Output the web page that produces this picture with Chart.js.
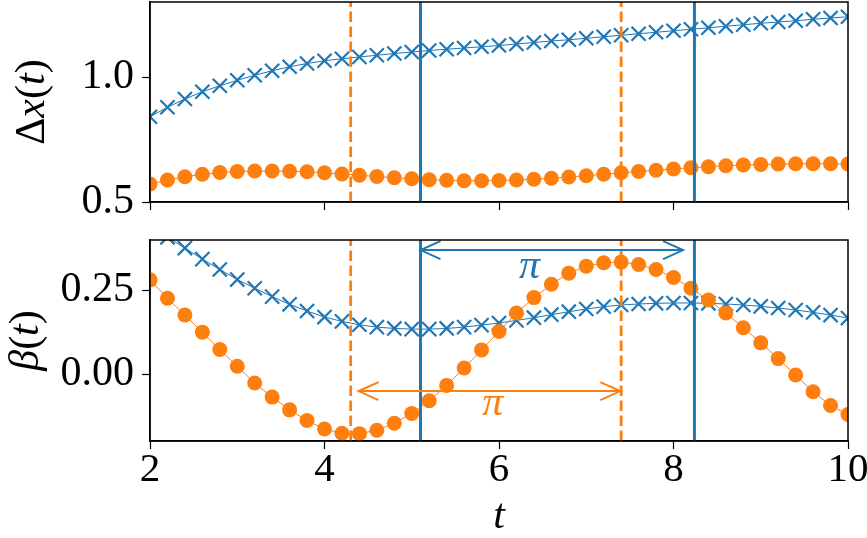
<!DOCTYPE html>
<html>
<head>
<meta charset="utf-8">
<script src="https://cdn.jsdelivr.net/npm/chart.js@4/dist/chart.umd.min.js"></script>
<style>
  body { margin: 0; background: #fff; }
  #wrap { position: relative; width: 867px; height: 538px; }
  canvas { position: absolute; left: 0; }
  #top { top: 0; }
  #bottom { top: 225px; }
</style>
</head>
<body>
<div id="wrap">
  <canvas id="top" width="867" height="215"></canvas>
  <canvas id="bottom" width="867" height="313"></canvas>
</div>
<script>
// sample times
const tValues = [2.0, 2.2, 2.4, 2.6, 2.8, 3.0, 3.2, 3.4, 3.6, 3.8,
                 4.0, 4.2, 4.4, 4.6, 4.8, 5.0, 5.2, 5.4, 5.6, 5.8,
                 6.0, 6.2, 6.4, 6.6, 6.8, 7.0, 7.2, 7.4, 7.6, 7.8,
                 8.0, 8.2, 8.4, 8.6, 8.8, 9.0, 9.2, 9.4, 9.6, 9.8, 10.0];

// Δx(t)
const dxBlue = [0.841, 0.879, 0.912, 0.941, 0.965, 0.987, 1.007, 1.025, 1.041, 1.054,
                1.065, 1.073, 1.080, 1.087, 1.094, 1.100, 1.106, 1.111, 1.116, 1.121,
                1.126, 1.132, 1.138, 1.144, 1.149, 1.155, 1.161, 1.167, 1.173, 1.179,
                1.185, 1.191, 1.197, 1.203, 1.209, 1.215, 1.220, 1.225, 1.231, 1.236, 1.241];
const dxOrange = [0.572, 0.588, 0.601, 0.611, 0.618, 0.622, 0.624, 0.624, 0.623, 0.621,
                  0.617, 0.612, 0.607, 0.602, 0.597, 0.593, 0.589, 0.587, 0.585, 0.585,
                  0.586, 0.588, 0.591, 0.595, 0.600, 0.605, 0.611, 0.617, 0.622, 0.627,
                  0.632, 0.637, 0.641, 0.645, 0.648, 0.650, 0.652, 0.653, 0.653, 0.653, 0.652];

// β(t)
const betaBlue = [0.440, 0.408, 0.376, 0.343, 0.312, 0.282, 0.256, 0.231, 0.208, 0.188,
                  0.170, 0.157, 0.147, 0.140, 0.136, 0.134, 0.134, 0.136, 0.140, 0.146,
                  0.152, 0.160, 0.168, 0.177, 0.186, 0.194, 0.201, 0.206, 0.209, 0.211,
                  0.212, 0.212, 0.211, 0.209, 0.206, 0.202, 0.197, 0.191, 0.184, 0.176, 0.167];
const betaOrange = [0.281, 0.226, 0.176, 0.125, 0.073, 0.023, -0.027, -0.069, -0.107, -0.139,
                    -0.164, -0.177, -0.178, -0.168, -0.147, -0.118, -0.080, -0.034, 0.018, 0.072,
                    0.127, 0.182, 0.228, 0.268, 0.301, 0.322, 0.332, 0.334, 0.327, 0.312,
                    0.288, 0.256, 0.221, 0.182, 0.138, 0.093, 0.046, -0.003, -0.053, -0.094, -0.121];

// ticks
const xTicks = [2, 4, 6, 8, 10];
const dxTicks = [0.5, 1.0];
const betaTicks = [0.0, 0.25];

// marked times (solid blue, dashed orange) and the π spans between them
const blueMarks = [5.10, 8.24];
const orangeMarks = [4.30, 7.40];
const blueSpan = [5.10, 8.11];
const orangeSpan = [4.39, 7.39];

const BLUE = "#1f77b4";
const ORANGE = "#ff7f0e";
const FONT = "'Liberation Serif', 'DejaVu Serif', serif";

const series = values => values.map((v, i) => ({ x: tValues[i], y: v }));

// draw a label made of upright / italic pieces, centred on (x, y)
function drawMath(ctx, parts, x, y, rotation, color) {
  ctx.save();
  ctx.translate(x, y);
  ctx.rotate(rotation);
  ctx.textBaseline = "middle";
  ctx.textAlign = "left";
  ctx.fillStyle = color;
  const widths = parts.map(([text, style]) => {
    ctx.font = `${style} 42px ${FONT}`;
    return ctx.measureText(text).width;
  });
  let cx = -widths.reduce((a, b) => a + b, 0) / 2;
  parts.forEach(([text, style], i) => {
    ctx.font = `${style} 42px ${FONT}`;
    ctx.fillText(text, cx, 0);
    cx += widths[i];
  });
  ctx.restore();
}

function drawArrow(ctx, x1, x2, y, color) {
  ctx.save();
  ctx.strokeStyle = color;
  ctx.lineWidth = 2;
  ctx.beginPath();
  ctx.moveTo(x1, y); ctx.lineTo(x2, y);
  ctx.moveTo(x1 + 20, y - 9); ctx.lineTo(x1, y); ctx.lineTo(x1 + 20, y + 9);
  ctx.moveTo(x2 - 20, y - 9); ctx.lineTo(x2, y); ctx.lineTo(x2 - 20, y + 9);
  ctx.stroke();
  ctx.restore();
}

function decor(drawExtras) {
  return {
    id: "decor",
    afterDatasetsDraw(chart) {
      const { ctx, chartArea: a, scales: { x } } = chart;
      ctx.save();
      const vline = (t, color, dash, width) => {
        const px = x.getPixelForValue(t);
        ctx.strokeStyle = color;
        ctx.lineWidth = width;
        ctx.setLineDash(dash);
        ctx.beginPath();
        ctx.moveTo(px, a.bottom);
        ctx.lineTo(px, a.top);
        ctx.stroke();
      };
      orangeMarks.forEach(t => vline(t, ORANGE, [10.5, 4.5], 2.8));
      blueMarks.forEach(t => vline(t, BLUE, [], 3));
      ctx.setLineDash([]);
      ctx.restore();
      drawExtras(chart);
      // box around the axes
      ctx.save();
      ctx.strokeStyle = "#000";
      ctx.lineWidth = 1.5;
      ctx.strokeRect(a.left, a.top, a.right - a.left, a.bottom - a.top);
      ctx.restore();
    }
  };
}

function xScale(showLabels) {
  return {
    type: "linear",
    min: 2,
    max: 10,
    afterBuildTicks: s => { s.ticks = xTicks.map(v => ({ value: v })); },
    afterFit: s => {
      s.height = showLabels ? 97 : 13;
      s.paddingLeft = 0;
      s.paddingRight = 0;
    },
    grid: { drawOnChartArea: false, drawTicks: true, tickLength: 8, tickColor: "#000", tickWidth: 1.2 },
    border: { display: true, color: "#000", width: 1.5 },
    ticks: {
      display: showLabels,
      autoSkip: false,
      maxRotation: 0,
      color: "#000",
      padding: 1,
      font: { family: FONT, size: 41, lineHeight: 1 },
      callback: v => String(v)
    }
  };
}

function yScale(min, max, tickValues, digits) {
  return {
    type: "linear",
    min: min,
    max: max,
    afterBuildTicks: s => { s.ticks = tickValues.map(v => ({ value: v })); },
    afterFit: s => {
      s.width = 150;
      s.paddingTop = 0;
      s.paddingBottom = 0;
    },
    grid: { drawOnChartArea: false, drawTicks: true, tickLength: 8, tickColor: "#000", tickWidth: 1.2 },
    border: { display: true, color: "#000", width: 1.5 },
    ticks: {
      autoSkip: false,
      color: "#000",
      padding: 8,
      font: { family: FONT, size: 42, lineHeight: 1 },
      callback: v => v.toFixed(digits)
    }
  };
}

function datasets(blue, orange) {
  return [
    {
      data: series(blue),
      order: 2,
      borderColor: BLUE,
      backgroundColor: BLUE,
      borderWidth: 1,
      pointStyle: "crossRot",
      pointRadius: 10,
      pointBorderWidth: 2.2,
      pointBorderColor: BLUE
    },
    {
      data: series(orange),
      order: 1,
      borderColor: ORANGE,
      backgroundColor: ORANGE,
      borderWidth: 1,
      pointStyle: "circle",
      pointRadius: 7.5,
      pointBorderWidth: 0,
      pointBackgroundColor: ORANGE
    }
  ];
}

const common = {
  responsive: false,
  devicePixelRatio: 1,
  animation: false,
  events: [],
  plugins: { legend: { display: false }, tooltip: { enabled: false } }
};

new Chart(document.getElementById("top"), {
  type: "line",
  data: { datasets: datasets(dxBlue, dxOrange) },
  options: {
    ...common,
    layout: { autoPadding: false, padding: { top: 2, right: 19, left: 0, bottom: 0 } },
    scales: { x: xScale(false), y: yScale(0.5, 1.3, dxTicks, 1) }
  },
  plugins: [decor(chart => {
    const a = chart.chartArea;
    drawMath(chart.ctx, [["Δ", "normal"], ["x", "italic"], ["(", "normal"], ["t", "italic"], [")", "normal"]],
      33, (a.top + a.bottom) / 2, -Math.PI / 2, "#000");
  })]
});

new Chart(document.getElementById("bottom"), {
  type: "line",
  data: { datasets: datasets(betaBlue, betaOrange) },
  options: {
    ...common,
    layout: { autoPadding: false, padding: { top: 15, right: 19, left: 0, bottom: 0 } },
    scales: { x: xScale(true), y: yScale(-0.2, 0.4, betaTicks, 2) }
  },
  plugins: [decor(chart => {
    const { ctx, chartArea: a, scales: { x, y } } = chart;
    drawArrow(ctx, x.getPixelForValue(blueSpan[0]), x.getPixelForValue(blueSpan[1]), y.getPixelForValue(0.37), BLUE);
    drawArrow(ctx, x.getPixelForValue(orangeSpan[0]), x.getPixelForValue(orangeSpan[1]), y.getPixelForValue(-0.051), ORANGE);
    drawMath(ctx, [["π", "italic"]], x.getPixelForValue(6.35), y.getPixelForValue(0.32), 0, BLUE);
    drawMath(ctx, [["π", "italic"]], x.getPixelForValue(5.93), y.getPixelForValue(-0.09), 0, ORANGE);
    drawMath(ctx, [["β", "italic"], ["(", "normal"], ["t", "italic"], [")", "normal"]],
      27, (a.top + a.bottom) / 2, -Math.PI / 2, "#000");
    drawMath(ctx, [["t", "italic"]], (a.left + a.right) / 2, a.bottom + 76, 0, "#000");
  })]
});
</script>
</body>
</html>
